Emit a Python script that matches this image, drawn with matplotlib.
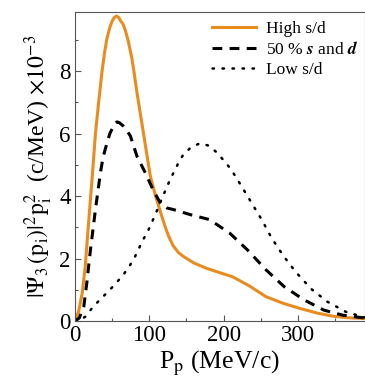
import matplotlib
matplotlib.use("Agg")
import matplotlib.pyplot as plt
from matplotlib.ticker import MultipleLocator

# Data
p_high = [0, 5, 10, 14, 18, 23, 27.7, 32, 36.6, 40, 43, 47, 50, 53, 56, 59, 62, 65, 68,
          72, 76.8, 80, 83.5, 88, 92.5, 97, 101.5, 108, 115, 121, 126, 132, 139, 146,
          160, 177, 200, 212, 235, 257, 280, 302, 325, 346, 365, 390]
v_high = [0, 0.3, 0.9, 1.75, 3.0, 4.5, 6.0, 7.0, 8.0, 8.6, 9.03, 9.4, 9.6, 9.72, 9.77,
          9.72, 9.6, 9.5, 9.3, 8.95, 8.4, 7.9, 7.32, 6.65, 5.98, 5.3, 4.64, 4.05, 3.5,
          3.05, 2.72, 2.42, 2.2, 2.07, 1.86, 1.69, 1.51, 1.42, 1.12, 0.78, 0.57, 0.41,
          0.26, 0.16, 0.11, 0.08]

p_mid = [0, 6, 12, 16, 21, 27.7, 34.4, 38, 43.3, 47, 50, 53, 56.7, 60, 65, 70, 74.6,
         83.5, 94.7, 106, 115, 124, 132.7, 155, 181, 208, 232, 257, 281.5, 308, 335,
         360, 386, 390]
v_mid = [0, 0.1, 0.46, 1.2, 2.28, 3.57, 4.75, 5.25, 5.71, 6.0, 6.15, 6.3, 6.38, 6.35,
         6.25, 6.1, 5.93, 5.28, 4.75, 4.16, 3.78, 3.62, 3.57, 3.41, 3.25, 2.82, 2.28,
         1.64, 1.10, 0.68, 0.35, 0.19, 0.11, 0.10]

p_low = [0, 7, 14, 23, 33.5, 44.6, 56, 65.7, 73.7, 81, 91.6, 98, 108, 118.4, 128, 139.4,
         146, 157, 168, 180, 190.8, 201, 210, 224, 237.7, 251.6, 264.5, 280, 297, 317.7,
         339.5, 364, 386, 390]
v_low = [0, 0.03, 0.14, 0.41, 0.68, 0.94, 1.23, 1.5, 1.77, 2.07, 2.6, 2.87, 3.4, 4.0,
         4.53, 5.07, 5.34, 5.58, 5.69, 5.62, 5.4, 5.12, 4.86, 4.32, 3.78, 3.23, 2.66, 2.1,
         1.57, 1.03, 0.62, 0.30, 0.14, 0.12]

x_ticks = [0, 100, 200, 300]
y_ticks = [0, 2, 4, 6, 8]

plt.rcParams['font.family'] = ['Liberation Serif', 'DejaVu Serif']
plt.rcParams['mathtext.fontset'] = 'stix'

fig = plt.figure(figsize=(3.65, 3.85), dpi=100)
ax = fig.add_axes([0.205, 0.166, 0.795, 0.803])

ax.plot(p_high, v_high, color='#E98C1F', lw=2.2, label='High s/d')
ax.plot(p_mid, v_mid, color='black', lw=2.2, dashes=(3.2, 2.4), label=r'50 % $\mathbfit{s}$ and $\mathbfit{d}$')
ax.plot(p_low, v_low, color='black', lw=1.8, dashes=(0.6, 3.4), dash_capstyle='round', label='Low s/d')

ax.set_xlim(0, 390)
ax.set_ylim(0, 9.9)
ax.set_xticks(x_ticks)
ax.set_yticks(y_ticks)
ax.xaxis.set_minor_locator(MultipleLocator(50))
ax.yaxis.set_minor_locator(MultipleLocator(1))
ax.tick_params(which='both', direction='in', top=False, right=False, labelsize=16.5, colors='#555555', labelcolor='black')
ax.tick_params(which='major', length=4, width=0.8, pad=3)
ax.tick_params(which='minor', length=2.5, width=0.8)
for s in ax.spines.values():
    s.set_color('#555555')
    s.set_linewidth(0.8)

ax.set_xlabel(r'P$_\mathrm{p}$ (MeV/c)', fontsize=18.5, labelpad=2)
ax.set_ylabel(r'$|\Psi_3\,(\mathrm{p_i})|^2\mathrm{p_i^2}$  (c/MeV) $\times10^{-3}$', fontsize=17, labelpad=3)

leg = ax.legend(loc='upper right', bbox_to_anchor=(1.0, 0.995), frameon=False, fontsize=12.5,
                handlelength=2.5, handletextpad=0.6, labelspacing=0.25, borderaxespad=0.0)

fig.savefig('out.png', dpi=100)
